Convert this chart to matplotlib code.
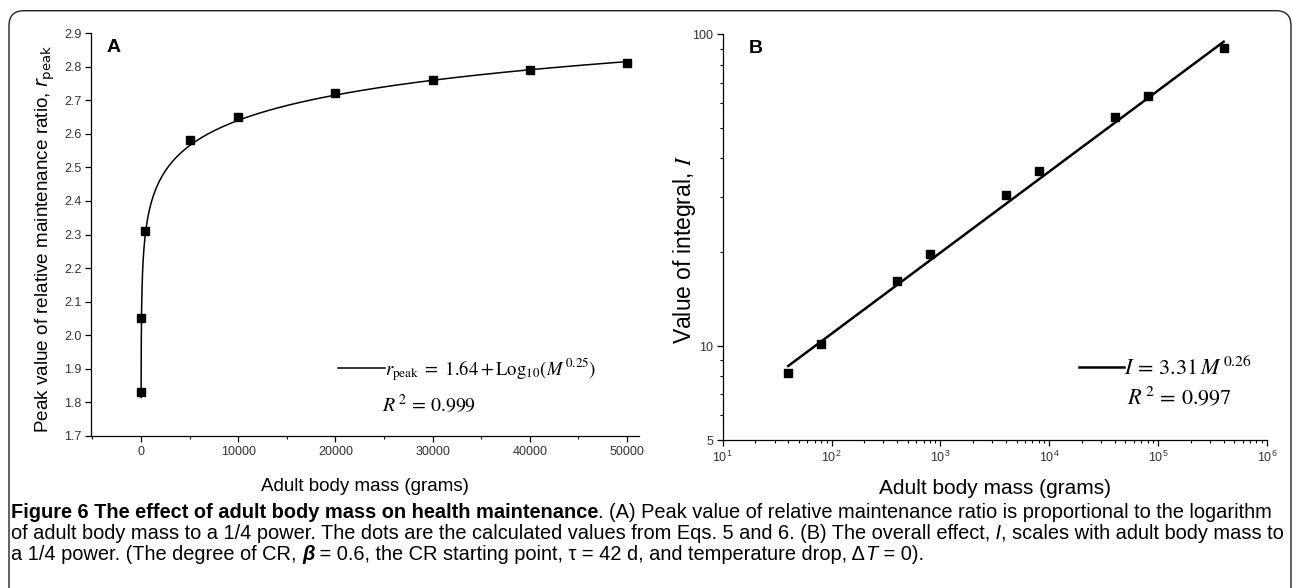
import numpy as np
import matplotlib
matplotlib.use('Agg')
import matplotlib.pyplot as plt
from matplotlib import ticker
from matplotlib.patches import FancyBboxPatch
from matplotlib.transforms import IdentityTransform

plt.rcParams['font.family'] = ['Liberation Sans', 'DejaVu Sans']

#panel A data
mass_a = [4, 40, 400, 5000, 10000, 20000, 30000, 40000, 50000]
rpeak_a = [1.83, 2.05, 2.31, 2.58, 2.65, 2.72, 2.76, 2.79, 2.81]
fit_a = (1.64, 0.25)   # r = 1.64 + log10(M^0.25)

#panel B data
mass_b = [40, 80, 400, 800, 4000, 8000, 40000, 80000, 400000]
integ_b = [8.2, 10.15, 16.2, 19.7, 30.5, 36.4, 54.1, 63.3, 90.6]
fit_b = (3.31, 0.26)   # I = 3.31 M^0.26

yticks_a = [1.7, 1.8, 1.9, 2.0, 2.1, 2.2, 2.3, 2.4, 2.5, 2.6, 2.7, 2.8, 2.9]
xticks_a = [0, 10000, 20000, 30000, 40000, 50000]
yticks_b = [5, 10, 100]

W, H = 1293, 588
fig = plt.figure(figsize=(W/100, H/100), dpi=100)

tick_col = '#333333'
tick_fs = 9

def frac(l, r, t, b):
    return [l/W, 1 - b/H, (r-l)/W, (b-t)/H]

#panel A
ax1 = fig.add_axes(frac(91, 639, 33, 436))
m = np.logspace(np.log10(5), np.log10(mass_a[-1]), 400)
line_a, = ax1.plot(m, fit_a[0] + np.log10(m**fit_a[1]), 'k-', lw=1.1)
ax1.plot(mass_a, rpeak_a, 'ks', ms=5.5)
ax1.set_xlim(-5150, 51230)
ax1.set_ylim(1.7, 2.9)
ax1.set_yticks(yticks_a)
ax1.yaxis.set_major_formatter(ticker.FormatStrFormatter('%.1f'))
ax1.set_xticks(xticks_a)
ax1.xaxis.set_minor_locator(ticker.MultipleLocator(5000))
ax1.text(0.028, 0.965, 'A', transform=ax1.transAxes, fontsize=14, fontweight='bold', va='center', ha='left')
ax1.set_ylabel(r'Peak value of relative maintenance ratio, $r_{\rm peak}$', fontsize=13.6,
               math_fontfamily='dejavusans')
ax1.yaxis.set_label_coords(-0.062, 0.49)
ax1.set_xlabel('Adult body mass (grams)', fontsize=13.5)
ax1.xaxis.set_label_coords(0.499, -0.105)
leg = ax1.legend([line_a], [r'$r_{\rm peak}\ =\ 1.64 + {\rm Log}_{10}(M^{\,0.25})$'],
                 loc='center left', bbox_to_anchor=(0.451, 0.166), frameon=False,
                 handlelength=2.5, handletextpad=0.0, borderpad=0, borderaxespad=0,
                 prop={'family': 'serif', 'size': 13.4})
for t in leg.get_texts():
    t.set_math_fontfamily('stix')
ax1.text(0.531, 0.077, r'$R^{\,2}\,=\,0.999$', transform=ax1.transAxes, fontsize=14.3,
         math_fontfamily='stix', va='center', ha='left')

#panel B
ax2 = fig.add_axes(frac(722.7, 1267, 34.3, 440))
ax2.set_xscale('log')
ax2.set_yscale('log')
mb = np.logspace(np.log10(mass_b[0]), np.log10(mass_b[-1]), 200)
line_b, = ax2.plot(mb, fit_b[0] * mb**fit_b[1], 'k-', lw=1.8)
ax2.plot(mass_b, integ_b, 'ks', ms=5.5)
ax2.set_xlim(10, 1e6)
ax2.set_ylim(5, 100)
ax2.yaxis.set_major_locator(ticker.FixedLocator(yticks_b))
ax2.yaxis.set_major_formatter(ticker.FormatStrFormatter('%g'))
ax2.yaxis.set_minor_locator(ticker.LogLocator(base=10, subs=np.arange(2, 10)))
ax2.yaxis.set_minor_formatter(ticker.NullFormatter())
ax2.xaxis.set_major_locator(ticker.LogLocator(base=10, numticks=10))
ax2.xaxis.set_minor_locator(ticker.LogLocator(base=10, subs=np.arange(2, 10), numticks=20))
ax2.xaxis.set_minor_formatter(ticker.NullFormatter())
ax2.text(0.048, 0.965, 'B', transform=ax2.transAxes, fontsize=14, fontweight='bold', va='center', ha='left')
ax2.set_ylabel(r'Value of integral, $I$', fontsize=16.5, math_fontfamily='stix')
ax2.yaxis.set_label_coords(-0.045, 0.47)
ax2.set_xlabel('Adult body mass (grams)', fontsize=15)
ax2.xaxis.set_label_coords(0.50, -0.097)
leg2 = ax2.legend([line_b], [r'$I\,=\,3.31\,M^{\,0.26}$'],
                  loc='center left', bbox_to_anchor=(0.655, 0.177), frameon=False,
                  handlelength=2.0, handletextpad=0.0, borderpad=0, borderaxespad=0,
                  prop={'family': 'serif', 'size': 16})
for t in leg2.get_texts():
    t.set_math_fontfamily('stix')
ax2.text(0.743, 0.1035, r'$R^{\,2}\,=\,0.997$', transform=ax2.transAxes, fontsize=16,
         math_fontfamily='stix', va='center', ha='left')

for ax in (ax1, ax2):
    for s in ('top', 'right'):
        ax.spines[s].set_visible(False)
    for s in ('left', 'bottom'):
        ax.spines[s].set_linewidth(0.9)
    ax.tick_params(which='major', direction='out', length=4, width=0.9,
                   labelsize=tick_fs, labelcolor=tick_col, pad=3)
    ax.tick_params(which='minor', direction='out', length=2.5, width=0.8)

#frame round the figure
box = FancyBboxPatch((9, -30), 1282, H - 10.7 + 30, boxstyle='round,pad=0,rounding_size=15',
                     transform=IdentityTransform(), fill=False, ec='#222222', lw=1.0)
fig.add_artist(box)

#caption
cap_lines = [
    [('Figure 6 The effect of adult body mass on health maintenance', 'b'),
     ('. (A) Peak value of relative maintenance ratio is proportional to the logarithm', '')],
    [('of adult body mass to a 1/4 power. The dots are the calculated values from Eqs. 5 and 6. (B) The overall effect,', ''),
     (' I', 'i'),
     (', scales with adult body mass to', '')],
    [('a 1/4 power. (The degree of CR, ', ''),
     ('\u03b2', 'bi'),
     (' = 0.6, the CR starting point, \u03c4 = 42 d, and temperature drop, \u0394', ''),
     ('T', 'i'),
     (' = 0).', '')],
]
cap_y = [518, 539, 560]
renderer = fig.canvas.get_renderer()

def runs(x, y, parts, fs, keep=True):
    made = []
    for txt, style in parts:
        kw = dict(fontsize=fs, va='baseline', ha='left', transform=IdentityTransform())
        if 'b' in style:
            kw['fontweight'] = 'bold'
        if 'i' in style:
            kw['fontstyle'] = 'italic'
        t = fig.text(x, y, txt, **kw)
        x = t.get_window_extent(renderer).x1
        made.append(t)
    if not keep:
        for t in made:
            t.remove()
    return x

#fit the first caption line to the box width
x_end = runs(11, H - cap_y[0], cap_lines[0], 10, keep=False)
cap_fs = 10 * (1274 - 11) / (x_end - 11)
for parts, y in zip(cap_lines, cap_y):
    runs(11, H - y, parts, cap_fs)

fig.savefig('out.png', dpi=100)
